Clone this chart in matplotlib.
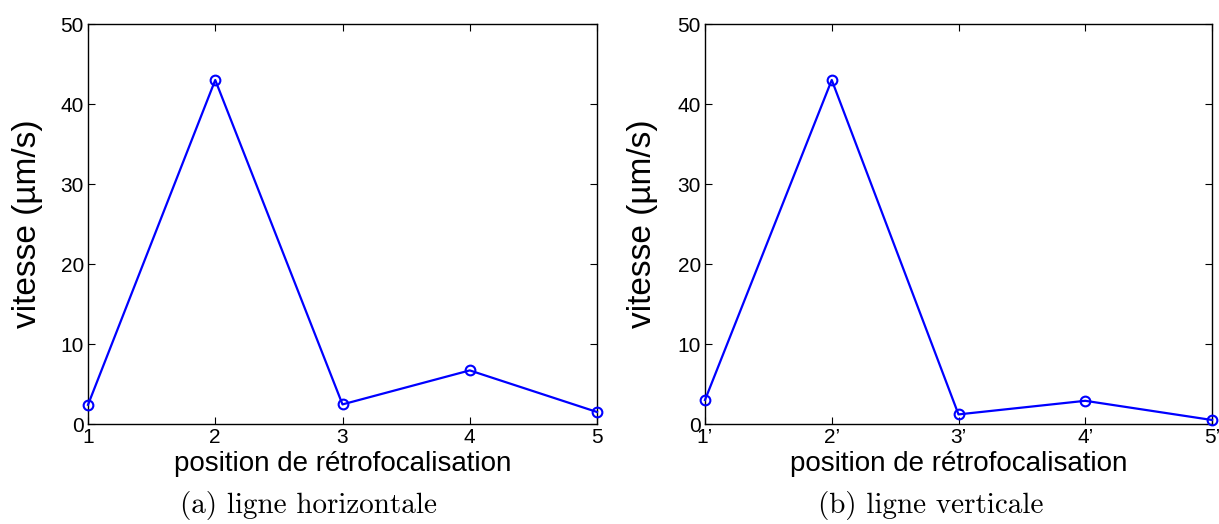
import numpy as np
import matplotlib.pyplot as plt

# positions and speeds
pos = [1, 2, 3, 4, 5]
labels_h = ["1", "2", "3", "4", "5"]
labels_v = ["1\u2019", "2\u2019", "3\u2019", "4\u2019", "5\u2019"]
vit_h = [2.4, 43.0, 2.45, 6.7, 1.5]
vit_v = [3.0, 43.0, 1.2, 2.9, 0.5]

plt.rcParams['font.family'] = ['Liberation Sans', 'DejaVu Sans']

W, H = 1219, 524
fig = plt.figure(figsize=(W/100, H/100), dpi=100)
ax1 = fig.add_axes([88/W, 1-424/H, 509/W, 400/H])
ax2 = fig.add_axes([705/W, 1-424/H, 507/W, 400/H])

panels = [(ax1, vit_h, labels_h, "(a) ligne horizontale", 309, -61/509),
          (ax2, vit_v, labels_v, "(b) ligne verticale", 931, -62/507)]

for ax, y, labs, cap, capx, ylx in panels:
    ax.plot(pos, y, color="#0000ff", lw=1.6, marker="o", ms=7,
            mfc="none", mec="#0000ff", mew=1.5, clip_on=False, zorder=3)
    ax.set_xlim(1, 5)
    ax.set_ylim(0, 50)
    ax.set_xticks(pos)
    ax.set_xticklabels(labs)
    ax.set_yticks([0, 10, 20, 30, 40, 50])
    ax.tick_params(direction="in", length=5, width=0.8, labelsize=15,
                   top=True, right=True, pad=3)
    ax.set_xlabel("position de r\u00e9trofocalisation", fontsize=20, va="center")
    ax.xaxis.set_label_coords(0.5, -40/400)
    ax.set_ylabel("vitesse (\u00b5m/s)", fontsize=24, va="center")
    ax.yaxis.set_label_coords(ylx, 0.5)
    for s in ax.spines.values():
        s.set_linewidth(1.0)
    fig.text(capx/W, 1-505/H, cap, ha="center", va="center",
             fontsize=21, family="cmr10")

fig.savefig("out.png", dpi=100)
